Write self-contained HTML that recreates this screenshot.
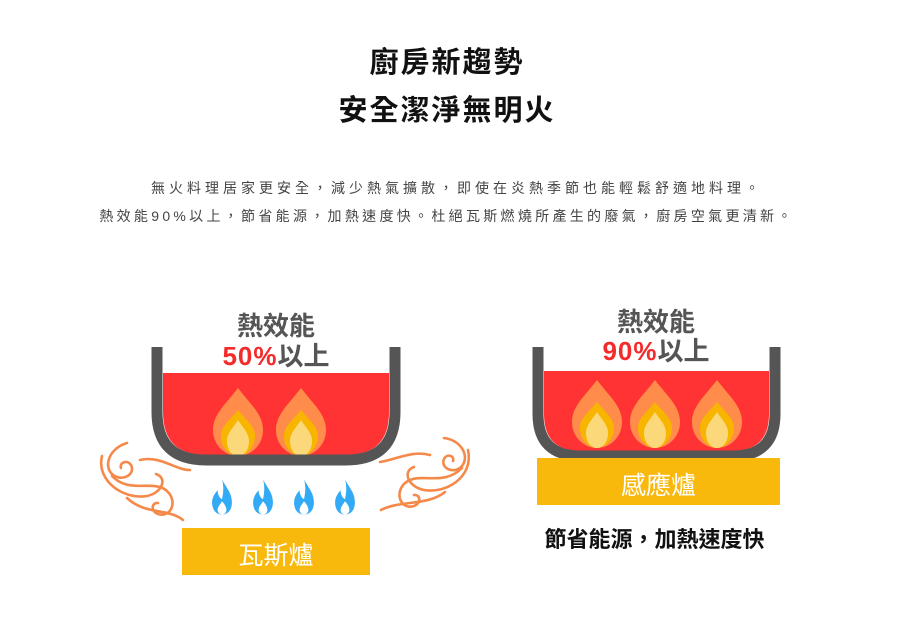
<!DOCTYPE html>
<html><head><meta charset="utf-8"><style>
body{margin:0;width:918px;height:623px;background:#fff;position:relative;overflow:hidden;font-family:"Liberation Sans","Noto Sans CJK TC",sans-serif}
.t{position:absolute;left:0;width:918px;text-align:center;white-space:nowrap}
</style></head><body>
<div class="t" style="left:-12px;top:39px;font-size:29px;font-weight:bold;color:#111;letter-spacing:2px">廚房新趨勢</div>
<div class="t" style="left:-12px;top:87px;font-size:29px;font-weight:bold;color:#111;letter-spacing:2px">安全潔淨無明火</div>
<div class="t" style="left:-2px;top:178px;font-size:14px;color:#444;letter-spacing:4px">無火料理居家更安全，減少熱氣擴散，即使在炎熱季節也能輕鬆舒適地料理。</div>
<div class="t" style="left:-12px;top:206px;font-size:14px;color:#444;letter-spacing:3.3px">熱效能90%以上，節省能源，加熱速度快。杜絕瓦斯燃燒所產生的廢氣，廚房空氣更清新。</div>

<svg width="918" height="623" style="position:absolute;left:0;top:0">
<defs>
<g id="fl">
<path d="M0,-34 C12,-18 25,-8 25,8 C25,24 12,34 0,34 C-12,34 -25,24 -25,8 C-25,-8 -12,-18 0,-34Z" fill="#ff8c4a"/>
<path d="M0,-12 C8,-2 17,4 17,14 C17,26 8,34 0,34 C-8,34 -17,26 -17,14 C-17,4 -8,-2 0,-12Z" fill="#f7b500"/>
<path d="M0,-2 C5,6 11,11 11,19 C11,28 6,34 0,34 C-6,34 -11,28 -11,19 C-11,11 -5,6 0,-2Z" fill="#fbd97a"/>
</g>
<g id="bf">
<path d="M0,-16 C4,-8 9,-4 9,5 C9,12 5,16 0,16 C-5,16 -9,12 -9,5 C-9,0 -6,-4 -4,-6 C-4,-2 -2,1 0,2 C1,-3 2,-9 0,-16Z" fill="#33aaf5"/>
<path d="M0,4 C3,7 4,10 4,12 C4,14 2,16 0,16 C-2,16 -4,14 -4,12 C-4,9 -2,7 0,4Z" fill="#fff"/>
</g>
</defs>
<!-- left pot -->
<path d="M163,373 H389 V412 Q389,455 346,455 H206 Q163,455 163,412Z" fill="#ff3333"/>
<use href="#fl" x="238" y="422"/><use href="#fl" x="301" y="422"/>
<path d="M157,347 V412 Q157,460 206,460 H346 Q395,460 395,412 V347" fill="none" stroke="#555" stroke-width="11"/>
<g transform="translate(222,497) scale(1.1)"><use href="#bf"/></g>
<g transform="translate(263,497) scale(1.1)"><use href="#bf"/></g>
<g transform="translate(304,497) scale(1.1)"><use href="#bf"/></g>
<g transform="translate(345,497) scale(1.1)"><use href="#bf"/></g>
<rect x="182" y="528" width="188" height="47" fill="#f8b80c"/>
<!-- swirls -->
<g fill="none" stroke="#f5894a" stroke-width="2.6" stroke-linecap="round">
<path d="M127,443 C110,448 103,465 112,474 C122,483 136,474 131,465 C127,459 119,463 121,468"/>
<path d="M112,476 C130,495 155,478 168,492 C178,503 170,518 158,514 C150,511 152,502 158,503"/>
<path d="M102,456 C96,482 125,500 147,496 C162,493 168,478 156,474"/>
<path d="M127,498 C145,515 168,508 183,520"/>
<path d="M140,460 C160,455 175,470 190,470"/>
<path d="M444,438 C461,440 470,456 462,466 C454,475 440,468 444,459 C447,453 455,456 453,461"/>
<path d="M462,468 C442,488 418,470 404,484 C394,495 402,510 414,506 C422,503 420,494 414,495"/>
<path d="M468,450 C474,477 446,494 424,490 C408,487 402,471 414,467"/>
<path d="M445,492 C428,506 400,500 381,510"/>
<path d="M430,455 C412,450 395,460 380,462"/>
</g>
<!-- right pot -->
<path d="M544,371 H769 V414 Q769,451 732,451 H581 Q544,451 544,414Z" fill="#ff3333"/>
<use href="#fl" x="597" y="414"/><use href="#fl" x="655" y="414"/><use href="#fl" x="717" y="414"/>
<path d="M538,347 V414 Q538,456 581,456 H732 Q775,456 775,414 V347" fill="none" stroke="#555" stroke-width="11"/>
<rect x="537" y="458" width="243" height="47" fill="#f8b80c"/>
</svg>

<div class="t" style="left:176px;width:200px;top:306px;font-size:26px;font-weight:bold;color:#555">熱效能</div>
<div class="t" style="left:176px;width:200px;top:336px;font-size:26px;font-weight:bold;color:#555"><span style="color:#f42b2b;letter-spacing:1px">50%</span>以上</div>
<div class="t" style="left:556px;width:200px;top:302px;font-size:26px;font-weight:bold;color:#555">熱效能</div>
<div class="t" style="left:556px;width:200px;top:331px;font-size:26px;font-weight:bold;color:#555"><span style="color:#f42b2b;letter-spacing:1px">90%</span>以上</div>
<div class="t" style="left:182px;width:188px;top:536px;font-size:25px;color:#fff">瓦斯爐</div>
<div class="t" style="left:537px;width:243px;top:466px;font-size:25px;color:#fff">感應爐</div>
<div class="t" style="left:533px;width:243px;top:522px;font-size:22px;font-weight:bold;color:#111">節省能源，加熱速度快</div>
</body></html>
